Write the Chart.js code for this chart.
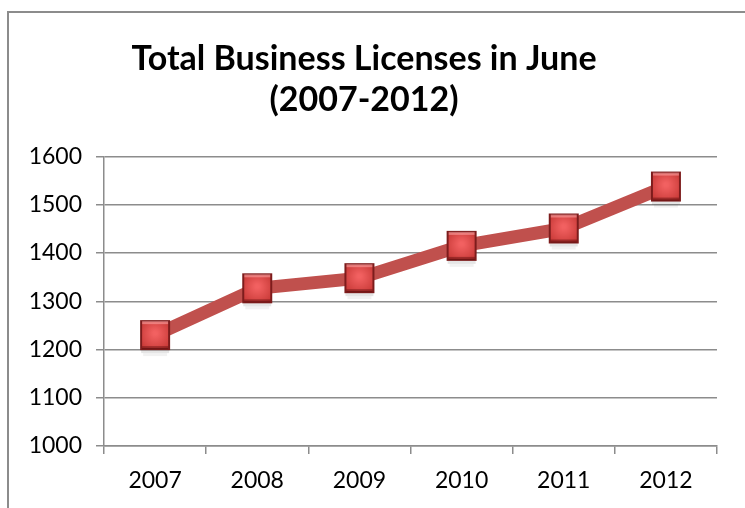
<!DOCTYPE html>
<html>
<head>
<meta charset="utf-8">
<script src="https://cdn.jsdelivr.net/npm/chart.js@4.4.0/dist/chart.umd.min.js"></script>
<style>
  html, body { margin: 0; padding: 0; background: #fff; }
  #wrap { width: 745px; height: 508px; position: relative; }
</style>
</head>
<body>
<div id="wrap"><canvas id="licenseChart" width="745" height="508"></canvas></div>
<script>
const years = ['2007', '2008', '2009', '2010', '2011', '2012'];
const licenses = [1230, 1327, 1348, 1415, 1451, 1538];
const titleLines = ['Total Business Licenses in June', '(2007-2012)'];
const yMin = 1000;
const yMax = 1600;
const yStep = 100;

// square bevelled marker, drawn once into a small canvas
function makeMarker() {
    const c = document.createElement('canvas');
    c.width = 34;
    c.height = 48;
    const g = c.getContext('2d');
    const x0 = 2, y0 = 9, s = 30;
    // soft shadow under the marker
    g.fillStyle = 'rgba(0,0,0,0.10)';
    g.fillRect(x0 + 1, y0 + s, s - 2, 3);
    g.fillStyle = 'rgba(0,0,0,0.05)';
    g.fillRect(x0 + 3, y0 + s + 3, s - 6, 3);
    // dark rim
    g.fillStyle = '#7d1c1c';
    g.fillRect(x0, y0, s, s);
    // face
    const grad = g.createRadialGradient(x0 + s / 2, y0 + s / 2 - 2, 2, x0 + s / 2, y0 + s / 2, s * 0.7);
    grad.addColorStop(0, '#f26161');
    grad.addColorStop(1, '#c0322f');
    g.fillStyle = grad;
    g.fillRect(x0 + 2, y0 + 2, s - 4, s - 4);
    // top highlight
    g.fillStyle = 'rgba(255,170,170,0.55)';
    g.fillRect(x0 + 2, y0 + 1, s - 4, 3);
    // bottom darker bevel
    g.fillStyle = 'rgba(90,10,10,0.45)';
    g.fillRect(x0 + 2, y0 + s - 4, s - 4, 3);
    return c;
}

const frame = {
    id: 'frame',
    beforeDraw(chart) {
        const c = chart.ctx;
        c.save();
        c.fillStyle = '#fff';
        c.fillRect(0, 0, chart.width, chart.height);
        c.strokeStyle = '#8c8c8c';
        c.lineWidth = 2;
        c.strokeRect(8, 12, 800, 600);
        c.restore();
    }
};

const ctx = document.getElementById('licenseChart').getContext('2d');

new Chart(ctx, {
    type: 'line',
    data: {
        labels: years,
        datasets: [{
            data: licenses,
            borderColor: '#c0504d',
            borderWidth: 13,
            tension: 0,
            pointStyle: makeMarker(),
            pointRadius: 15,
            pointHoverRadius: 15
        }]
    },
    options: {
        responsive: false,
        animation: false,
        events: [],
        layout: { padding: { left: 7, right: 24, top: 11, bottom: 0 } },
        plugins: {
            legend: { display: false },
            tooltip: { enabled: false },
            title: {
                display: true,
                text: titleLines,
                color: '#000',
                font: { family: 'Lato', size: 34, weight: 'bold', lineHeight: 1.2 },
                padding: { top: 28, bottom: 36 }
            }
        },
        scales: {
            x: {
                offset: true,
                grid: {
                    offset: true,
                    drawOnChartArea: false,
                    tickLength: 8,
                    color: '#8c8c8c',
                    lineWidth: 1.5
                },
                border: { color: '#8c8c8c', width: 1.5 },
                ticks: {
                    color: '#000',
                    font: { family: 'Lato', size: 23 },
                    padding: 13
                },
                afterFit(scale) { scale.height = 62; }
            },
            y: {
                min: yMin,
                max: yMax,
                ticks: {
                    stepSize: yStep,
                    color: '#000',
                    font: { family: 'Lato', size: 23 },
                    padding: 14,
                    callback: (v) => String(v)
                },
                grid: { color: '#8c8c8c', lineWidth: 1.5, tickLength: 8 },
                border: { color: '#8c8c8c', width: 1.5 },
                afterFit(scale) { scale.width = 97; }
            }
        }
    },
    plugins: [frame]
});
</script>
</body>
</html>
